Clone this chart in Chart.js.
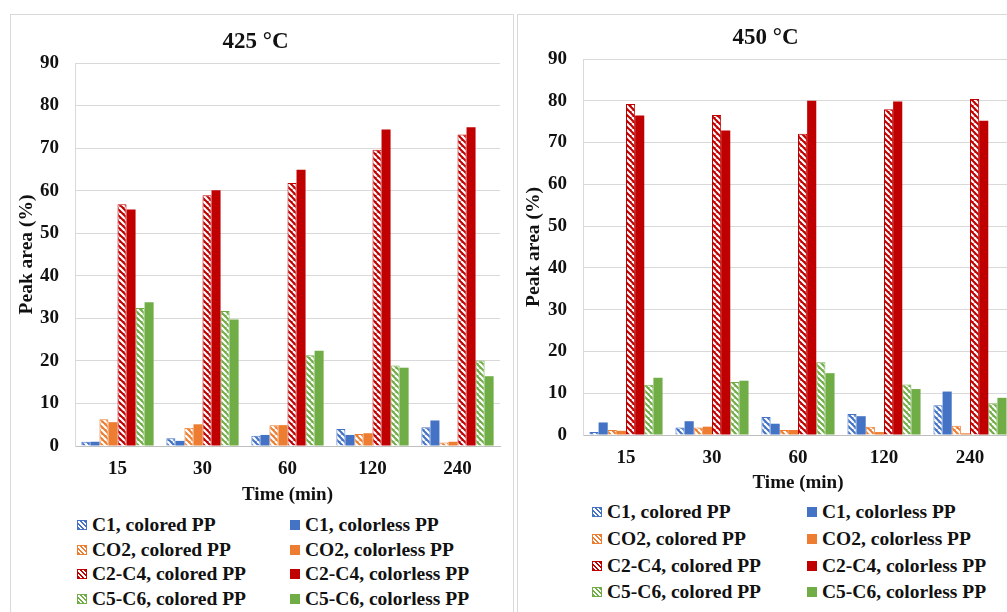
<!DOCTYPE html>
<html>
<head>
<meta charset="utf-8">
<script src="https://cdn.jsdelivr.net/npm/chart.js@4"></script>
<style>
  body { margin: 0; background: #fff; overflow: hidden; width: 1007px; height: 612px; position: relative; }
  .panel { position: absolute; border: 1px solid #d9d9d9; background: #fff; }
  .cw { position: absolute; left: 0; top: 0; }
  .legend { position: absolute; display: grid; font-family: "Liberation Serif", "Times New Roman", serif; font-weight: bold; font-size: 19.5px; color: #111; }
  .item { display: flex; align-items: center; white-space: nowrap; }
  .icon { width: 8px; height: 8px; margin-right: 5px; flex: none; }
</style>
</head>
<body>
<div class="panel" style="left:10px;top:14px;width:502px;height:620px">
  <div class="cw" style="width:501px;height:495px"><canvas id="c425"></canvas></div>
</div>
<div class="legend" id="leg425" style="left:77px;top:513px;grid-template-columns:213px 213px;grid-auto-rows:24.5px"></div>

<div class="panel" style="left:517px;top:14px;width:520px;height:620px">
  <div class="cw" style="width:510px;height:483px"><canvas id="c450"></canvas></div>
</div>
<div class="legend" id="leg450" style="left:592px;top:499px;grid-template-columns:215px 215px;grid-auto-rows:26.7px"></div>

<script>
// time on the x axis
const times = ['15', '30', '60', '120', '240'];

// 425 °C
const c1Colored425 = [1.0, 1.8, 2.4, 4.0, 4.4];
const c1Colorless425 = [1.0, 1.2, 2.6, 2.6, 6.0];
const co2Colored425 = [6.3, 4.3, 4.9, 2.8, 0.8];
const co2Colorless425 = [5.6, 5.1, 4.9, 3.0, 1.0];
const c2c4Colored425 = [56.8, 58.9, 61.8, 69.6, 73.2];
const c2c4Colorless425 = [55.6, 60.1, 64.9, 74.4, 74.9];
const c5c6Colored425 = [32.4, 31.7, 21.3, 18.9, 20.1];
const c5c6Colorless425 = [33.8, 29.7, 22.4, 18.4, 16.4];

// 450 °C
const c1Colored450 = [0.7, 1.8, 4.3, 5.0, 7.1];
const c1Colorless450 = [3.0, 3.3, 2.7, 4.5, 10.4];
const co2Colored450 = [1.2, 1.8, 1.2, 2.0, 2.2];
const co2Colorless450 = [1.0, 2.0, 1.2, 0.7, 0.4];
const c2c4Colored450 = [79.2, 76.6, 72.1, 78.0, 80.4];
const c2c4Colorless450 = [76.5, 72.9, 80.0, 79.8, 75.2];
const c5c6Colored450 = [12.0, 12.7, 17.4, 12.1, 7.6];
const c5c6Colorless450 = [13.7, 13.0, 14.8, 11.0, 8.9];

const yTicks = [0, 10, 20, 30, 40, 50, 60, 70, 80, 90];

const seriesNames = ['C1, colored PP', 'C1, colorless PP', 'CO2, colored PP', 'CO2, colorless PP',
  'C2-C4, colored PP', 'C2-C4, colorless PP', 'C5-C6, colored PP', 'C5-C6, colorless PP'];
const seriesColors = ['#4472C4', '#4472C4', '#ED7D31', '#ED7D31', '#C00000', '#C00000', '#70AD47', '#70AD47'];
const hatched = [true, false, true, false, true, false, true, false];

Chart.defaults.font.family = '"Liberation Serif", "Times New Roman", serif';
Chart.defaults.font.weight = 'bold';
Chart.defaults.color = '#111';
Chart.defaults.animation = false;

function makeHatch(color) {
  const s = 6;
  const c = document.createElement('canvas');
  c.width = s; c.height = s;
  const g = c.getContext('2d');
  g.fillStyle = color;
  g.fillRect(0, 0, s, s);
  g.strokeStyle = '#fff';
  g.lineWidth = 2.2;
  for (let k = -1; k <= 1; k++) {
    g.beginPath();
    g.moveTo(k * s, 0);
    g.lineTo(k * s + s, s);
    g.stroke();
  }
  return g.createPattern(c, 'repeat');
}

function buildChart(id, title, values, opts) {
  const datasets = values.map((v, i) => ({
    label: seriesNames[i],
    data: v,
    backgroundColor: hatched[i] ? makeHatch(seriesColors[i]) : seriesColors[i],
    borderColor: seriesColors[i],
    borderWidth: hatched[i] ? 1 : 0,
    categoryPercentage: 0.85,
    barPercentage: 1.0
  }));

  return new Chart(document.getElementById(id), {
    type: 'bar',
    data: { labels: times, datasets: datasets },
    options: {
      responsive: true,
      maintainAspectRatio: false,
      layout: { padding: { left: 0, right: opts.right, top: 0, bottom: 0 } },
      plugins: {
        legend: { display: false },
        tooltip: { enabled: false },
        title: {
          display: true,
          text: title,
          font: { size: 23, weight: 'bold' },
          color: '#111',
          padding: { top: opts.titleTop, bottom: opts.titleBottom }
        }
      },
      scales: {
        x: {
          grid: { display: false, drawTicks: false },
          border: { color: '#bfbfbf', width: 1 },
          ticks: { font: { size: 19 }, padding: 12 },
          title: { display: true, text: 'Time (min)', font: { size: 19 }, padding: { top: 0, bottom: 4 } },
          afterFit: s => { s.height = opts.xHeight; }
        },
        y: {
          min: 0,
          max: 90,
          afterBuildTicks: s => { s.ticks = yTicks.map(v => ({ value: v })); },
          grid: { color: '#d9d9d9', drawTicks: false },
          border: { color: '#d9d9d9' },
          ticks: { font: { size: 19 }, padding: 16 },
          title: { display: true, text: 'Peak area (%)', font: { size: 19.5 }, padding: { top: 4, bottom: 0 } },
          afterFit: s => { s.width = opts.yWidth; }
        }
      }
    }
  });
}

buildChart('c425', '425 °C',
  [c1Colored425, c1Colorless425, co2Colored425, co2Colorless425, c2c4Colored425, c2c4Colorless425, c5c6Colored425, c5c6Colorless425],
  { right: 12, titleTop: 13.2, titleBottom: 7.2, xHeight: 64, yWidth: 64 });

buildChart('c450', '450 °C',
  [c1Colored450, c1Colorless450, co2Colored450, co2Colorless450, c2c4Colored450, c2c4Colorless450, c5c6Colored450, c5c6Colorless450],
  { right: 15, titleTop: 9.2, titleBottom: 7.2, xHeight: 63, yWidth: 65 });

function buildLegend(id) {
  const box = document.getElementById(id);
  seriesNames.forEach((name, i) => {
    const item = document.createElement('div');
    item.className = 'item';
    const icon = document.createElement('span');
    icon.className = 'icon';
    const col = seriesColors[i];
    if (hatched[i]) {
      icon.style.border = '1px solid ' + col;
      icon.style.background = 'repeating-linear-gradient(45deg, ' + col + ' 0 1.6px, #fff 1.6px 3.2px)';
    } else {
      icon.style.width = '10px';
      icon.style.height = '10px';
      icon.style.background = col;
    }
    const txt = document.createElement('span');
    txt.textContent = name;
    item.appendChild(icon);
    item.appendChild(txt);
    box.appendChild(item);
  });
}
buildLegend('leg425');
buildLegend('leg450');
</script>
</body>
</html>
